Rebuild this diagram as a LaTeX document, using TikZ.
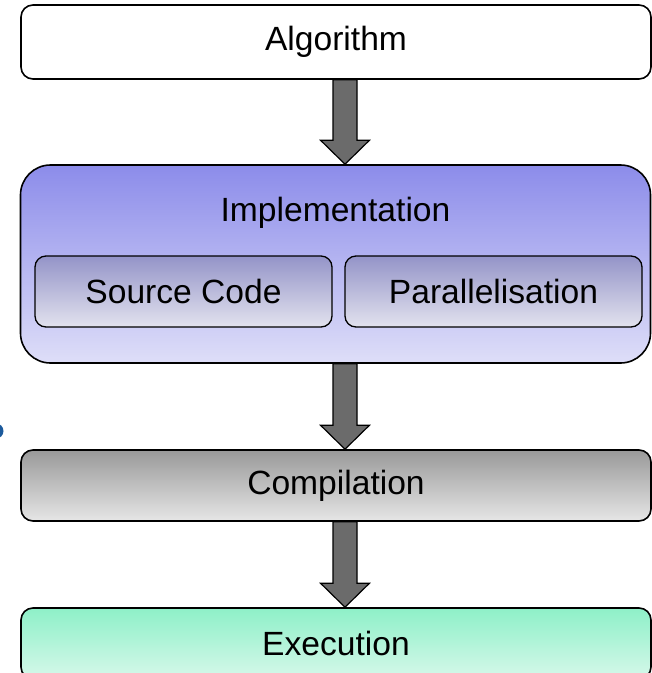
\documentclass[tikz,border=0pt]{standalone}
\usepackage{fontspec}
\setmainfont{Liberation Sans}
\usetikzlibrary{calc}

\definecolor{arrowgray}{HTML}{6B6B6B}
\definecolor{impltop}{HTML}{8C8CEA}
\definecolor{implbot}{HTML}{DEDEF8}
\definecolor{subtop}{HTML}{9494C8}
\definecolor{subbot}{HTML}{E2E2EE}
\definecolor{comptop}{HTML}{999999}
\definecolor{compbot}{HTML}{E6E6E6}
\definecolor{exectop}{HTML}{8EF0C8}
\definecolor{execbot}{HTML}{D6F8EA}
\definecolor{dotblue}{HTML}{1C5A9C}

\tikzset{
  stage/.style={draw=black,line width=1.6pt,rounded corners=12pt,
    minimum width=630,minimum height=71,font=\fontsize{33.6}{40}\selectfont},
  algobox/.style={stage,fill=white,minimum height=74},
  implbox/.style={stage,rounded corners=30pt,top color=impltop,bottom color=implbot,minimum height=198},
  subbox/.style={stage,line width=1.3pt,rounded corners=11pt,top color=subtop,bottom color=subbot,
    minimum width=297},
  compbox/.style={stage,top color=comptop,bottom color=compbot},
  execbox/.style={stage,top color=exectop,bottom color=execbot},
  fatarrow/.style={draw=black,line width=1.2pt,fill=arrowgray,line join=miter},
}

% thick block arrow, running down from one stage to the next
\newcommand\fatarrow[2]{%
  \draw[fatarrow] let \p0=(spine), \p1=(#1.south), \p2=(#2.north) in
    (\x0-12pt,\y1) -- (\x0+12pt,\y1) -- (\x0+12pt,\y2+24pt) -- (\x0+24.5pt,\y2+24pt)
    -- (\x0,\y2) -- (\x0-24.5pt,\y2+24pt) -- (\x0-12pt,\y2+24pt) -- cycle;}

\begin{document}
\begin{tikzpicture}[x=1pt,y=-1pt]
\clip (0,0) rectangle (652,673);

\coordinate (spine) at (345,0);

\node[algobox]  (algo) at (336,42)    {Algorithm};
\node[implbox]  (impl) at (335.5,264) {};
\node[font=\fontsize{33.6}{40}\selectfont] (impltitle) at (335.5,213) {Implementation};
\node[subbox]   (src)  at (183.5,291.5) {Source Code};
\node[subbox]   (par)  at (493.5,291.5) {Parallelisation};
\node[compbox]  (comp) at (336,485.5) {Compilation};
\node[execbox]  (exec) at (336,643.5) {Execution};

\fatarrow{algo}{impl}
\fatarrow{impl}{comp}
\fatarrow{comp}{exec}

\fill[dotblue] (-4,431) circle (7.5);
\end{tikzpicture}
\end{document}
